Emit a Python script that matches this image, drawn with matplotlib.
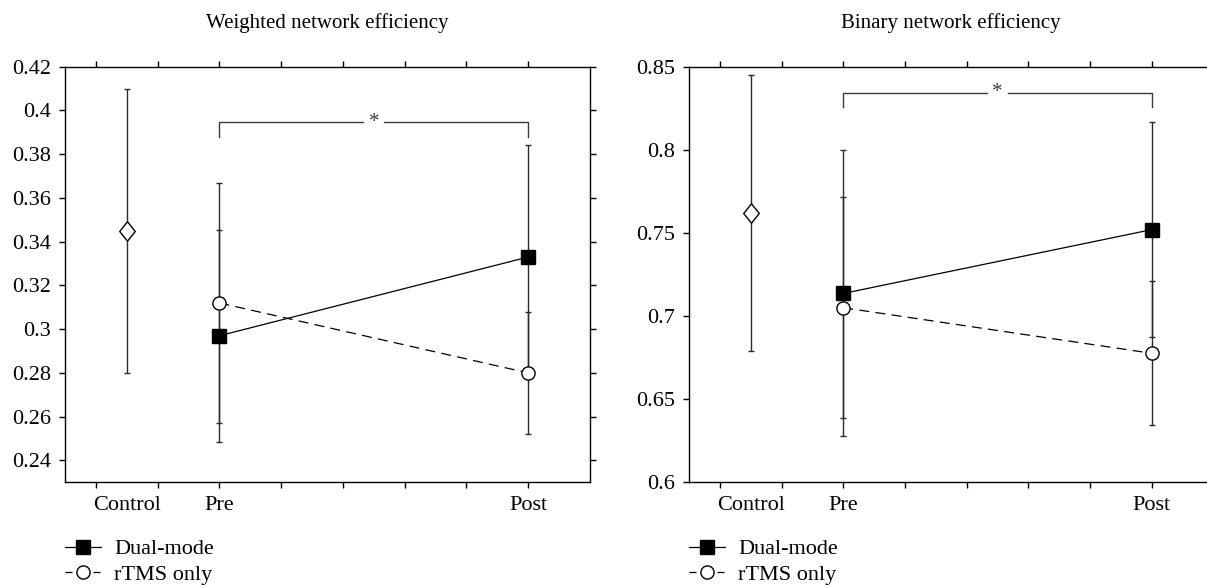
import matplotlib.pyplot as plt
from matplotlib.lines import Line2D

plt.rcParams['font.family'] = ['Liberation Serif', 'DejaVu Serif']
plt.rcParams['font.size'] = 16

# x layout: ticks every unit, groups sit on some of them
tick_pos = [0, 1, 2, 3, 4, 5, 6, 7]
tick_labels = ["", "", "Pre", "", "", "", "", "Post"]
control_x = 0.5
session_x = [2, 7]
series_labels = ["Dual-mode", "rTMS only"]

titles = ["Weighted network efficiency", "Binary network efficiency"]
ylims = [(0.23, 0.42), (0.6, 0.85)]
yticks = [[0.24, 0.26, 0.28, 0.30, 0.32, 0.34, 0.36, 0.38, 0.40, 0.42],
          [0.60, 0.65, 0.70, 0.75, 0.80, 0.85]]

# weighted efficiency
w_control = 0.345
w_control_err = 0.065
w_dual = [0.297, 0.333]
w_dual_err = [0.0485, 0.0514]
w_rtms = [0.312, 0.280]
w_rtms_err = [0.0548, 0.0277]
w_bracket = (0.3946, 0.388)

# binary efficiency
b_control = 0.762
b_control_err = 0.083
b_dual = [0.7136, 0.752]
b_dual_err = [0.086, 0.0645]
b_rtms = [0.705, 0.6776]
b_rtms_err = [0.0666, 0.0432]
b_bracket = (0.8342, 0.8256)

diamond = [(0, 1), (0.8, 0), (0, -1), (-0.8, 0), (0, 1)]
ecol = "#2a2a2a"


def draw_panel(ax, title, ylim, ticks, control, control_err, dual, dual_err,
               rtms, rtms_err, bracket):
    ax.errorbar([control_x], [control], yerr=[control_err], fmt="none",
                ecolor=ecol, elinewidth=1.0, capsize=2, capthick=1.0, zorder=1)
    ax.errorbar(session_x, dual, yerr=dual_err, fmt="none",
                ecolor=ecol, elinewidth=1.0, capsize=2, capthick=1.0, zorder=1)
    ax.errorbar(session_x, rtms, yerr=rtms_err, fmt="none",
                ecolor=ecol, elinewidth=1.0, capsize=2, capthick=1.0, zorder=1)

    ax.plot([control_x], [control], linestyle="none", marker=diamond,
            markersize=14, markerfacecolor="white", markeredgecolor="black",
            markeredgewidth=1.0, zorder=3)
    ax.plot(session_x, rtms, color="black", lw=0.9,
            linestyle=(0, (8, 5)), marker="o", markersize=9.5,
            markerfacecolor="white", markeredgecolor="black",
            markeredgewidth=1.0, zorder=3)
    ax.plot(session_x, dual, color="black", lw=0.9,
            marker="s", markersize=9.5, markerfacecolor="black",
            markeredgecolor="black", zorder=4)

    # significance bracket between Pre and Post
    top, drop = bracket
    mid = (session_x[0] + session_x[1]) / 2
    gap = 0.17
    bcol = "#3a3a3a"
    ax.plot([session_x[0], session_x[0], mid - gap], [drop, top, top],
            color=bcol, lw=1.0, zorder=2)
    ax.plot([mid + gap, session_x[1], session_x[1]], [top, top, drop],
            color=bcol, lw=1.0, zorder=2)
    ax.text(mid, top, "*", ha="center", va="center", fontsize=15,
            color=bcol)

    ax.set_xlim(-0.5, 8)
    ax.set_ylim(*ylim)
    ax.set_xticks(tick_pos, tick_labels)
    ax.set_xticks([control_x], ["Control"], minor=True)
    ax.set_yticks(ticks)
    ax.set_yticklabels(["%g" % t for t in ticks])
    ax.tick_params(which="major", direction="out", length=4, width=1,
                   top=True, bottom=True, left=True, right=True, pad=6)
    ax.tick_params(which="minor", length=0, pad=10)
    for sp in ax.spines.values():
        sp.set_linewidth(1.0)

    ax.text(0.5, 1.093, title, transform=ax.transAxes, ha="center",
            va="baseline", fontsize=15)

    # legend handles: short dashes on both sides of the circle
    h_dual = Line2D([], [], color="black", lw=0.9, marker="s",
                    markersize=9.5, markerfacecolor="black")
    h_rtms = Line2D([], [], color="black", lw=0.9,
                    linestyle=(0, (5.6, 16.8)), marker="o", markersize=9.5,
                    markerfacecolor="white", markeredgecolor="black")
    ax.legend([h_dual, h_rtms], series_labels, loc="upper left",
              bbox_to_anchor=(0.0, -0.136), frameon=False, borderpad=0,
              borderaxespad=0, handlelength=1.6, handletextpad=0.6,
              labelspacing=0.22, fontsize=16)


fig = plt.figure(figsize=(12.07, 5.86), dpi=100)
ax1 = fig.add_axes([0.05385, 0.17696, 0.43496, 0.70922])
ax2 = fig.add_axes([0.57084, 0.17696, 0.43455, 0.70922])

draw_panel(ax1, titles[0], ylims[0], yticks[0], w_control, w_control_err,
           w_dual, w_dual_err, w_rtms, w_rtms_err, w_bracket)
draw_panel(ax2, titles[1], ylims[1], yticks[1], b_control, b_control_err,
           b_dual, b_dual_err, b_rtms, b_rtms_err, b_bracket)

fig.savefig("out.png", dpi=100)
